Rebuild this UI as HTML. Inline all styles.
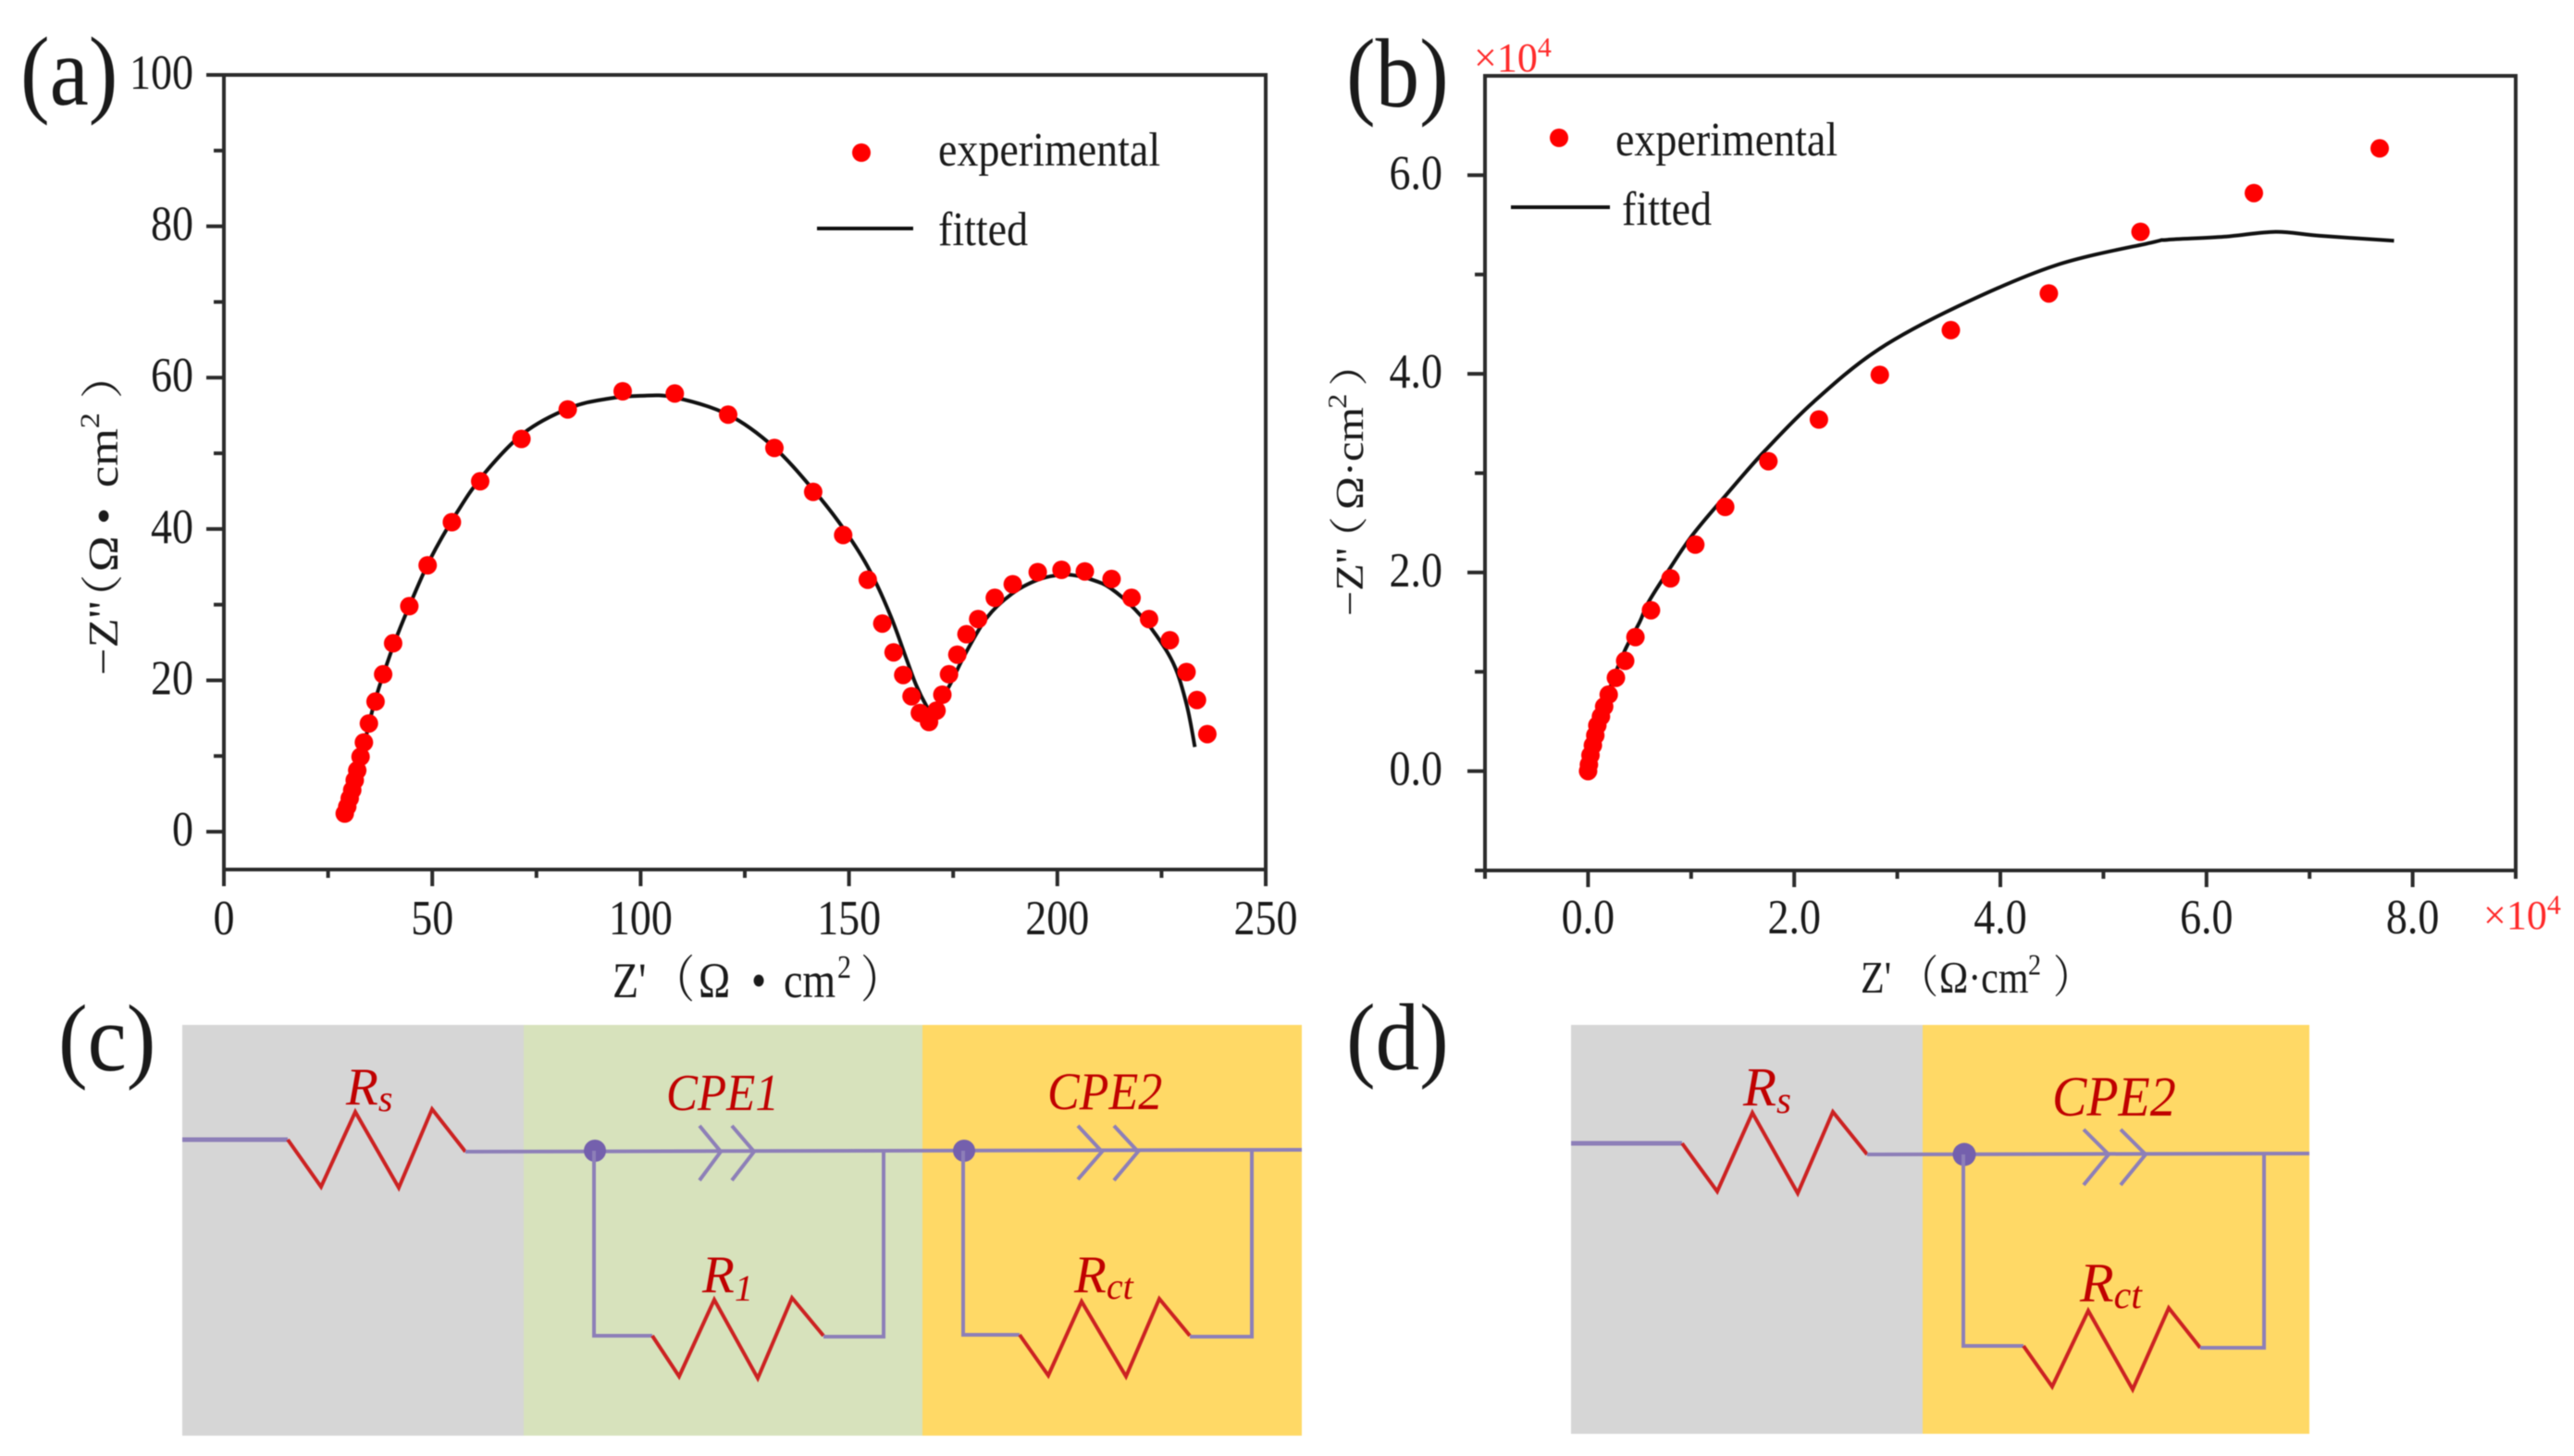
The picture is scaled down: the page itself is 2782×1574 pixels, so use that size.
<!DOCTYPE html>
<html>
<head>
<meta charset="utf-8">
<title>Nyquist plots and equivalent circuits</title>
<style>
html,body{margin:0;padding:0;background:#fff;}
svg{display:block;filter:blur(0.6px);}
text{font-family:"Liberation Serif","Noto Serif CJK SC",serif;fill:#1a1a1a;}
.red{fill:#c00000;font-style:italic;}
.wire{fill:none;stroke:#8d7fb8;stroke-width:5;}
.thin{fill:none;stroke:#8d7fb8;stroke-width:4;}
.zig{fill:none;stroke:#cc2222;stroke-width:4;}
.node{fill:#7460ad;}
</style>
</head>
<body>
<svg id="fig" xmlns="http://www.w3.org/2000/svg" width="2782" height="1574" viewBox="0 0 2782 1574">
  <rect width="2782" height="1574" fill="#fff"/>
  <text transform="translate(22,113) scale(1,1.12)" font-size="95">(a)</text>
  <text transform="translate(1455,115) scale(1,1.12)" font-size="95">(b)</text>
  <text transform="translate(63,1157) scale(1,1.08)" font-size="95">(c)</text>
  <text transform="translate(1455,1156) scale(1,1.08)" font-size="95">(d)</text>

  <g id="panelA"></g>
  <g id="panelB"></g>

  <!-- Legend A -->
  <g>
    <ellipse cx="931" cy="165" rx="10" ry="10" fill="#ff0000"/>
    <text transform="translate(1014,179) scale(1,1.13)" font-size="46">experimental</text>
    <line x1="883" y1="247" x2="987" y2="247" stroke="#111" stroke-width="4"/>
    <text transform="translate(1014,265) scale(1,1.13)" font-size="46">fitted</text>
  </g>
  <!-- Legend B -->
  <g>
    <ellipse cx="1685" cy="149" rx="10" ry="10" fill="#ff0000"/>
    <text transform="translate(1746,168) scale(1,1.13)" font-size="46">experimental</text>
    <line x1="1633" y1="224" x2="1740" y2="224" stroke="#111" stroke-width="4"/>
    <text transform="translate(1753,243) scale(1,1.13)" font-size="46">fitted</text>
  </g>

  <!-- Axis titles -->
  <text transform="translate(662,1078) scale(1,1.18)" font-size="46"><tspan x="0">Z'</tspan><tspan x="43">（</tspan><tspan x="93">Ω</tspan><tspan x="150">•</tspan><tspan x="185">cm</tspan><tspan x="243" y="-18" font-size="30">2</tspan><tspan x="268" y="0">）</tspan></text>
  <text transform="translate(127,730) rotate(-90) scale(1.14,1)" font-size="46"><tspan x="0">−Z''</tspan><tspan x="50">（</tspan><tspan x="98">Ω</tspan><tspan x="143">•</tspan><tspan x="178">cm</tspan><tspan x="234" y="-20" font-size="30">2</tspan><tspan x="262" y="0">）</tspan></text>
  <text transform="translate(2011,1073) scale(1,1.15)" font-size="42"><tspan x="0">Z'</tspan><tspan x="42">（</tspan><tspan x="85">Ω·cm</tspan><tspan x="181" y="-17" font-size="28">2</tspan><tspan x="208" y="0">）</tspan></text>
  <text transform="translate(1473,666) rotate(-90) scale(1.15,1)" font-size="42"><tspan x="0">−Z''</tspan><tspan x="52">（</tspan><tspan x="100">Ω·cm</tspan><tspan x="195" y="-18" font-size="28">2</tspan><tspan x="216" y="0">）</tspan></text>

  <!-- Multipliers -->
  <text x="1593" y="77" font-size="44" style="fill:#ff2a2a">×10<tspan font-size="30" dy="-16">4</tspan></text>
  <text x="2684" y="1004" font-size="44" style="fill:#ff2a2a">×10<tspan font-size="30" dy="-16">4</tspan></text>

  <!-- Circuit C -->
  <g>
    <rect x="197" y="1108" width="369" height="444" fill="#d6d6d6"/>
    <rect x="566" y="1108" width="431" height="444" fill="#d7e2bc"/>
    <rect x="997" y="1108" width="410" height="444" fill="#ffd966"/>
    <polyline class="wire" points="197,1232 311,1232"/>
    <polyline class="zig" points="311,1232 347,1283 384,1202 431,1284 467,1199 503,1245"/>
    <polyline class="thin" points="503,1245 1407,1243"/>
    <circle class="node" cx="643" cy="1244" r="12"/>
    <circle class="node" cx="1042" cy="1244" r="12"/>
    <polyline class="thin" points="756,1217 779,1245 756,1276"/>
    <polyline class="thin" points="791,1217 815,1245 791,1276"/>
    <polyline class="thin" points="1165,1217 1191,1245 1165,1275"/>
    <polyline class="thin" points="1204,1217 1230,1245 1204,1276"/>
    <polyline class="thin" points="642,1244 642,1444 705,1444"/>
    <polyline class="zig" points="705,1444 734,1488 772,1405 819,1490 856,1403 890,1444"/>
    <polyline class="thin" points="890,1445 955,1445 955,1244"/>
    <polyline class="thin" points="1041,1244 1041,1443 1102,1443"/>
    <polyline class="zig" points="1102,1443 1133,1487 1169,1407 1217,1488 1253,1404 1286,1444"/>
    <polyline class="thin" points="1286,1445 1353,1445 1353,1243"/>
    <text class="red" x="374" y="1194" font-size="57">R<tspan font-size="40" dy="7">s</tspan></text>
    <text class="red" transform="translate(720,1200) scale(1,1.1)" font-size="51">CPE1</text>
    <text class="red" transform="translate(1132,1199) scale(1,1.1)" font-size="52">CPE2</text>
    <text class="red" x="759" y="1397" font-size="57">R<tspan font-size="40" dy="9">1</tspan></text>
    <text class="red" x="1161" y="1397" font-size="57">R<tspan font-size="40" dy="7">ct</tspan></text>
  </g>

  <!-- Circuit D -->
  <g>
    <rect x="1698" y="1108" width="380" height="442" fill="#d6d6d6"/>
    <rect x="2078" y="1108" width="418" height="442" fill="#ffd966"/>
    <polyline class="wire" points="1698,1236 1818,1236"/>
    <polyline class="zig" points="1818,1236 1856,1288 1894,1203 1943,1290 1981,1202 2018,1248"/>
    <polyline class="thin" points="2018,1248 2496,1247"/>
    <circle class="node" cx="2123" cy="1248" r="12.5"/>
    <polyline class="thin" points="2252,1221 2279,1248 2252,1281"/>
    <polyline class="thin" points="2292,1221 2319,1248 2292,1281"/>
    <polyline class="thin" points="2122,1248 2122,1455 2187,1455"/>
    <polyline class="zig" points="2187,1455 2218,1499 2257,1417 2305,1502 2344,1414 2378,1457"/>
    <polyline class="thin" points="2378,1457 2447,1457 2447,1248"/>
    <text class="red" x="1884" y="1195" font-size="59">R<tspan font-size="41" dy="8">s</tspan></text>
    <text class="red" transform="translate(2218,1206) scale(1,1.1)" font-size="56">CPE2</text>
    <text class="red" x="2248" y="1407" font-size="60">R<tspan font-size="42" dy="7">ct</tspan></text>
  </g>
</svg>

<script>
// Panel (a) data
var aExpX = [29,29.6,30.2,30.8,31.4,32,32.8,33.6,34.8,36.4,38.2,40.6,44.5,48.9,54.7,61.5,71.4,82.5,95.7,108.2,121,132.1,141.4,148.6,154.5,158,160.7,163,165,167,169.2,171,172.4,174,176,178.2,181,185,189.3,195.3,201,206.6,213,217.8,222,227,231,233.5,236];
var aExpY = [2.4,3.3,4.4,5.5,6.8,8.1,9.9,11.8,14.3,17.2,20.8,24.9,29.8,35.2,40.9,46.3,51.9,55.8,58.2,57.9,55.1,50.7,44.9,39.2,33.3,27.5,23.7,20.7,17.9,15.7,14.5,16,18.1,20.8,23.4,26.1,28.1,30.9,32.7,34.3,34.6,34.4,33.4,30.9,28.1,25.3,21.1,17.4,12.9];
var aFitX = [29,31,33,36,39,41.5,45,49.5,55.5,62,72,83,92,100,108,121,132,142,149,155,160,163.9,166.1,168.7,170.1,171.2,174.2,177.9,183.1,189,194.9,200,203.8,208.3,212.7,218.6,223.8,228.2,231.1,233];
var aFitY = [2.4,5.8,10,16.8,22,25.8,30.5,36,41.8,47,52.7,56,57.2,57.6,57.4,55.1,50.8,44.8,39.8,34.5,28.5,22.65,19.4,16.5,15.5,16.6,19.4,23.5,28.3,31.4,33.2,33.9,33.9,33.3,32.2,29.4,25.9,21.8,16.6,11.2];
var aXTicks = [0,50,100,150,200,250];
var aXTickLabels = ["0","50","100","150","200","250"];
var aXMinor = [25,75,125,175,225];
var aYTicks = [0,20,40,60,80,100];
var aYTickLabels = ["0","20","40","60","80","100"];
var aYMinor = [10,30,50,70,90];

// Panel (b) data (in units of 10^4)
var bExpX = [0,0.008,0.023,0.047,0.07,0.09,0.125,0.156,0.2,0.27,0.36,0.46,0.61,0.8,1.04,1.33,1.75,2.24,2.83,3.52,4.47,5.36,6.46,7.68];
var bExpY = [0,0.065,0.16,0.26,0.36,0.46,0.55,0.65,0.77,0.94,1.11,1.35,1.62,1.94,2.28,2.66,3.12,3.54,3.99,4.44,4.81,5.43,5.82,6.27];
var bFitX = [0,0.1,0.2,0.35,0.5,0.585,0.78,1.015,1.33,1.72,2.19,2.81,3.59,4.53,5.46,5.62,6.17,6.67,7.1,7.82];
var bFitY = [0,0.45,0.8,1.2,1.5,1.7,2.02,2.38,2.77,3.23,3.72,4.24,4.68,5.09,5.32,5.35,5.38,5.43,5.39,5.34];
var bXTicks = [0,2,4,6,8];
var bXTickLabels = ["0.0","2.0","4.0","6.0","8.0"];
var bXMinor = [-1,1,3,5,7,9];
var bYTicks = [0,2,4,6];
var bYTickLabels = ["0.0","2.0","4.0","6.0"];
var bYMinor = [-1,1,3,5];

var NS = "http://www.w3.org/2000/svg";
var TEXT_STRETCH = 1.14;

function makeScale(d0, d1, r0, r1) {
  return function (v) { return r0 + (v - d0) / (d1 - d0) * (r1 - r0); };
}

function make(tag, parent) {
  var el = document.createElementNS(NS, tag);
  parent.appendChild(el);
  return el;
}

// Smooth path through the scaled data points (Catmull-Rom to Bezier)
function smoothPath(pts) {
  var d = "M" + pts[0][0].toFixed(1) + "," + pts[0][1].toFixed(1);
  for (var i = 0; i < pts.length - 1; i++) {
    var p0 = pts[Math.max(i - 1, 0)], p1 = pts[i], p2 = pts[i + 1], p3 = pts[Math.min(i + 2, pts.length - 1)];
    var c1x = p1[0] + (p2[0] - p0[0]) / 6, c1y = p1[1] + (p2[1] - p0[1]) / 6;
    var c2x = p2[0] - (p3[0] - p1[0]) / 6, c2y = p2[1] - (p3[1] - p1[1]) / 6;
    d += "C" + c1x.toFixed(1) + "," + c1y.toFixed(1) + " " + c2x.toFixed(1) + "," + c2y.toFixed(1) + " " + p2[0].toFixed(1) + "," + p2[1].toFixed(1);
  }
  return d;
}

function drawChart(g, o) {
  var sx = makeScale(o.xMin, o.xMax, o.left, o.right);
  var sy = makeScale(o.yMin, o.yMax, o.bottom, o.top);

  // fitted line
  var line = make("path", g);
  
  
  line.setAttribute("fill", "none");
  line.setAttribute("stroke", "#111");
  line.setAttribute("stroke-width", "4");
  line.setAttribute("stroke-linejoin", "round");
  line.setAttribute("d", smoothPath(o.fitX.map(function (v, i) { return [sx(v), sy(o.fitY[i])]; })));

  // experimental points
  o.expX.forEach(function (v, i) {
    var c = make("circle", g);
    
    
    c.setAttribute("cx", sx(v).toFixed(1));
    c.setAttribute("cy", sy(o.expY[i]).toFixed(1));
    c.setAttribute("r", "10");
    c.setAttribute("fill", "#ff0000");
  });

  // frame
  var frame = make("rect", g);
  
  
  frame.setAttribute("x", o.left);
  frame.setAttribute("y", o.top);
  frame.setAttribute("width", o.right - o.left);
  frame.setAttribute("height", o.bottom - o.top);
  frame.setAttribute("fill", "none");
  frame.setAttribute("stroke", "#2b2b2b");
  frame.setAttribute("stroke-width", "4");

  // x ticks
  o.xTicks.forEach(function (v, i) {
    var t = make("line", g);
    
    
    t.setAttribute("x1", sx(v)); t.setAttribute("x2", sx(v));
    t.setAttribute("y1", o.bottom); t.setAttribute("y2", o.bottom + 18);
    t.setAttribute("stroke", "#2b2b2b");
    t.setAttribute("stroke-width", "4");
    var l = make("text", g);
    
    
    l.setAttribute("transform", "translate(" + sx(v) + "," + o.xLabelY + ") scale(1," + TEXT_STRETCH + ")");
    l.setAttribute("font-size", o.fontSize);
    l.setAttribute("text-anchor", "middle");
    l.textContent = o.xLabels[i];
  });
  o.xMinor.forEach(function (v) {
    var t = make("line", g);
    
    
    t.setAttribute("x1", sx(v)); t.setAttribute("x2", sx(v));
    t.setAttribute("y1", o.bottom); t.setAttribute("y2", o.bottom + 9);
    t.setAttribute("stroke", "#2b2b2b");
    t.setAttribute("stroke-width", "4");
  });

  // y ticks
  o.yTicks.forEach(function (v, i) {
    var t = make("line", g);
    
    
    t.setAttribute("x1", o.left - 19); t.setAttribute("x2", o.left);
    t.setAttribute("y1", sy(v)); t.setAttribute("y2", sy(v));
    t.setAttribute("stroke", "#2b2b2b");
    t.setAttribute("stroke-width", "4");
    var l = make("text", g);
    
    
    l.setAttribute("transform", "translate(" + o.yLabelX + "," + (sy(v) + 15) + ") scale(1," + TEXT_STRETCH + ")");
    l.setAttribute("font-size", o.fontSize);
    l.setAttribute("text-anchor", "end");
    l.textContent = o.yLabels[i];
  });
  o.yMinor.forEach(function (v) {
    var t = make("line", g);
    
    
    t.setAttribute("x1", o.left - 11); t.setAttribute("x2", o.left);
    t.setAttribute("y1", sy(v)); t.setAttribute("y2", sy(v));
    t.setAttribute("stroke", "#2b2b2b");
    t.setAttribute("stroke-width", "4");
  });
}

drawChart(document.getElementById("panelA"), {
  left: 242, right: 1368, top: 81, bottom: 940,
  xMin: 0, xMax: 250, yMin: -5, yMax: 100,
  expX: aExpX, expY: aExpY, fitX: aFitX, fitY: aFitY,
  xTicks: aXTicks, xLabels: aXTickLabels, xMinor: aXMinor,
  yTicks: aYTicks, yLabels: aYTickLabels, yMinor: aYMinor,
  xLabelY: 1010, yLabelX: 209, fontSize: 46
});

drawChart(document.getElementById("panelB"), {
  left: 1605, right: 2719, top: 82, bottom: 941,
  xMin: -1, xMax: 9, yMin: -1, yMax: 7,
  expX: bExpX, expY: bExpY, fitX: bFitX, fitY: bFitY,
  xTicks: bXTicks, xLabels: bXTickLabels, xMinor: bXMinor,
  yTicks: bYTicks, yLabels: bYTickLabels, yMinor: bYMinor,
  xLabelY: 1009, yLabelX: 1559, fontSize: 46
});
</script>
</body>
</html>
